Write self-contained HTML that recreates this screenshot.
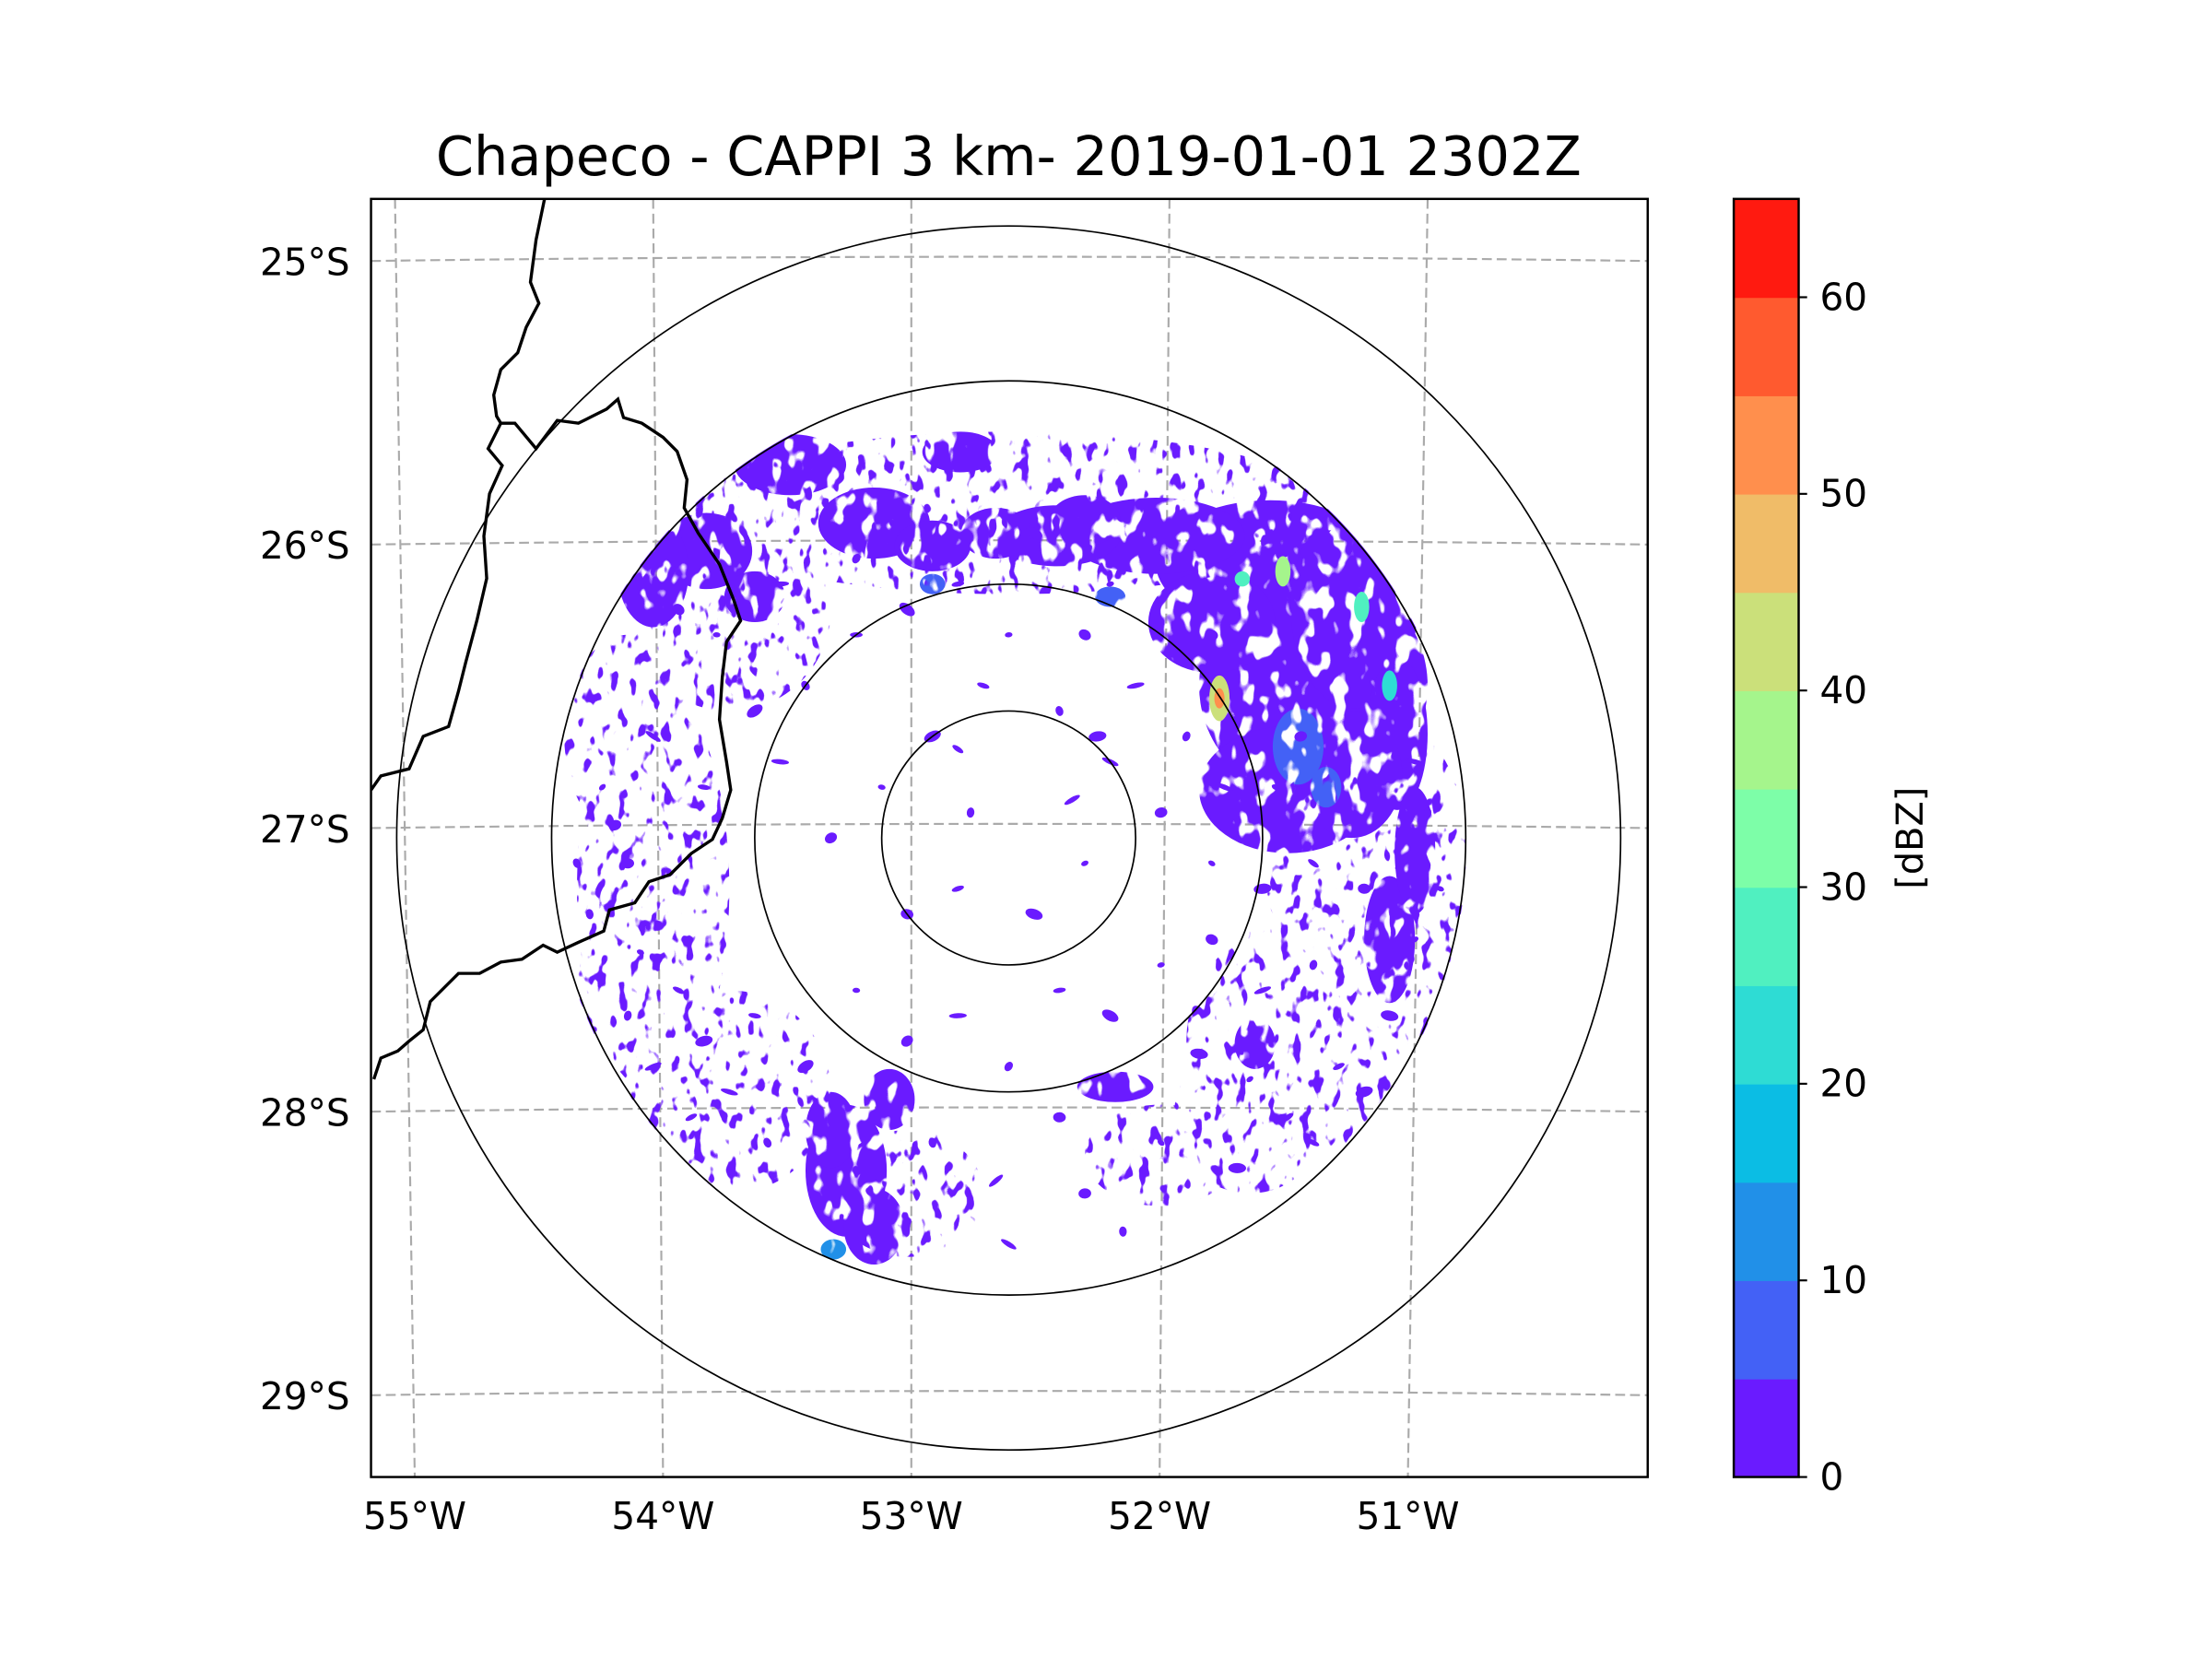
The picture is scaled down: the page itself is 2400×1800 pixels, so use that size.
<!DOCTYPE html>
<html><head><meta charset="utf-8"><style>
html,body{margin:0;padding:0;background:#fff}
svg{display:block}
text{font-family:"DejaVu Sans","Liberation Sans",sans-serif;fill:#000}
</style></head><body>
<svg id="chart" width="2400" height="1800" viewBox="0 0 1568 1176" xmlns="http://www.w3.org/2000/svg">
<rect width="1568" height="1176" fill="#fff"/>
<text x="715" y="124" font-size="38.5" text-anchor="middle">Chapeco - CAPPI 3 km- 2019-01-01 2302Z</text>
<defs>
<clipPath id="plotclip"><rect x="263" y="141" width="905" height="906"/></clipPath>
<clipPath id="radarclip"><circle cx="715" cy="594" r="325"/></clipPath>
<filter id="noiseDense" filterUnits="userSpaceOnUse" x="263" y="141" width="905" height="906" color-interpolation-filters="sRGB">
<feTurbulence type="fractalNoise" baseFrequency="0.09 0.06" numOctaves="2" seed="4" result="noise"/>
<feColorMatrix in="noise" type="matrix" values="0 0 0 0 1  0 0 0 0 1  0 0 0 0 1  14 0 0 0 -5.2"/>
</filter>
<filter id="noiseSparse" filterUnits="userSpaceOnUse" x="263" y="141" width="905" height="906" color-interpolation-filters="sRGB">
<feTurbulence type="fractalNoise" baseFrequency="0.13 0.08" numOctaves="2" seed="9" result="noise"/>
<feColorMatrix in="noise" type="matrix" values="0 0 0 0 1  0 0 0 0 1  0 0 0 0 1  16 0 0 0 -9.6"/>
</filter>
<mask id="maskDense" maskUnits="userSpaceOnUse" x="263" y="141" width="905" height="906"><rect x="263" y="141" width="905" height="906" fill="#fff" filter="url(#noiseDense)"/></mask>
<mask id="maskSparse" maskUnits="userSpaceOnUse" x="263" y="141" width="905" height="906"><rect x="263" y="141" width="905" height="906" fill="#fff" filter="url(#noiseSparse)"/></mask>
</defs>
<g id="grid" clip-path="url(#plotclip)"></g>
<g clip-path="url(#radarclip)">
<g id="sparseEchoes" mask="url(#maskSparse)"></g>
<g id="denseEchoes" mask="url(#maskDense)"></g>
<g id="echoes"></g>
</g>
<g id="map" clip-path="url(#plotclip)">
<path fill="none" stroke="#000" stroke-width="2.2" d="M386,141 L380,170 L376,200 L382,215 L373,232 L367,250 L355,262 L350,280 L352,295 L355,300 L346,318 L356,330 L347,350 L343,380 L345,410 L338,440 L330,470 L325,490 L318,515 L300,522 L290,545 L270,550 L263,560"/>
<path fill="none" stroke="#000" stroke-width="2.2" d="M355,300 L365,300 L380,318 L395,298 L410,300 L420,295 L430,290 L438,283 L442,296 L455,300 L470,310 L480,320 L487,340 L485,360 L495,378 L510,400 L520,425 L525,440 L515,455 L512,480 L510,510 L515,540 L518,560 L512,580 L505,595 L490,605 L475,620 L460,625 L450,640 L432,645 L428,660 L410,668 L395,675 L385,670 L370,680 L355,682 L340,690 L325,690 L315,700 L305,710 L300,730 L290,738 L282,745 L270,750 L265,765"/>
</g>
<g id="rings" clip-path="url(#plotclip)"></g>
<rect x="263" y="141" width="905" height="906" fill="none" stroke="#000" stroke-width="1.6"/>
<g id="labels"></g>
<g id="cbar"></g>
<text transform="translate(1363,594) rotate(-90)" font-size="26" text-anchor="middle">[dBZ]</text>
</svg>
<script>
const NS="http://www.w3.org/2000/svg";
// ---- data ----
const latTicks=[-25,-26,-27,-28,-29];
const latLabels=["25°S","26°S","27°S","28°S","29°S"];
const lonTicks=[-55,-54,-53,-52,-51];
const lonLabels=["55°W","54°W","53°W","52°W","51°W"];
const ringRadiiKm=[50,100,180,241];
const cbarLevels=[0,5,10,15,20,25,30,35,40,45,50,55,60,65];
const cbarColors=["#6a1bff","#4361f6","#2190e8","#0bbde4","#2edcd4","#50f0c0","#7dfea8","#a5f58c","#cbe07a","#f0bc68","#ff8f4d","#ff5a2f","#ff1a10"];
const cbarTicks=[0,10,20,30,40,50,60];
// dense echo areas: east km, north km, rx, ry, dBZ
const blobE=[103,120,110,136,58,19,153,80,-86,-53,-119,-19,-30,-140,-100,-64,-53,-47,-70,42,97,150,160,-5,30,135];
const blobN=[108,60,19,91,119,119,41,85,147,124,113,152,115,105,95,-131,-153,-103,-115,-98,-81,-40,-5,120,125,25];
const blobRx=[45,45,35,25,35,25,12,25,22,22,18,15,15,14,12,16,12,10,10,15,8,10,8,14,14,20];
const blobRy=[25,45,25,40,15,12,30,20,12,14,15,8,10,22,10,26,15,12,15,6,10,25,25,10,10,25];
const blobDbz=[2,2,2,2,2,2,2,2,2,2,2,2,2,2,2,2,2,2,2,2,2,2,2,2,2,2];
// sparse echo areas
const sparseE=[-140,-110,-150,120,160,0,-110,95,130,-40,60,-150];
const sparseN=[-20,-100,40,-80,-20,128,90,-110,-10,-140,-125,-60];
const sparseRx=[30,40,25,50,22,130,40,30,30,30,30,20];
const sparseRy=[80,40,40,50,60,32,40,30,40,25,20,30];
const sparseDbz=[2,2,2,2,2,2,2,2,2,2,2,2];
// stronger cores
const coreE=[114,83,83,108,92,139,-69,40,-30,150,125];
const coreN=[36,55,55,105,102,91,-162,95,100,60,20];
const coreRx=[10,4,2,3,3,3,5,6,5,3,6];
const coreRy=[15,9,4,6,3,6,4,4,4,6,8];
const coreDbz=[8,40,50,35,25,25,12,8,8,20,8];
const speckE=[-160,-150,-140,-165,-130,-120,-145,-155,-110,-95,-100,-80,-60,-40,-20,0,20,40,60,80,100,120,130,150,160,140,155,165,120,100,80,60,40,20,-10,-30,-50,-70,-90,-80,-60,-40,0,30,50,70,-20,10,30,-40,25,-15,110,90,60,30,0,-30,120,140,170,150,160,-170,-120,-100,-115,-130,-90,-60,-20,10,40,80,-140,-150,-125,75,95,20,-5,45,-20,35,105,115,85];
const speckN=[20,-10,40,-30,-60,-80,-45,5,-100,-120,-70,-90,-60,-80,-70,-90,-60,-70,-50,-40,-60,-50,-90,-70,-40,-20,-10,10,-10,-20,-10,10,30,50,60,40,20,0,30,60,80,90,80,80,60,40,-20,-30,-10,-30,15,10,-110,-130,-120,-140,-160,-120,-120,-100,-20,60,30,-10,20,50,80,90,100,110,100,120,100,80,-90,-70,-110,-85,-95,-110,-135,-155,35,40,20,40,20];
// ---- axes ----
const CX=715, CY=594, PXKM=1.8;
const xE=e=>CX+e*PXKM, yN=n=>CY-n*PXKM;
const yLat=lat=>587+(-27-lat)*201;
const xLonTop=lon=>646+(lon+53)*183, xLonBot=lon=>646+(lon+53)*176;
const cbY=v=>1047-(v-0)/(65-0)*906;
function colorFor(d){let i=Math.floor(d/5);i=Math.max(0,Math.min(cbarColors.length-1,i));return cbarColors[i];}
function mk(tag,attrs,parent){const el=document.createElementNS(NS,tag);for(const k in attrs)el.setAttribute(k,attrs[k]);parent.appendChild(el);return el;}
// grid
const grid=document.getElementById('grid');
latTicks.forEach(lat=>{const y=yLat(lat);
 const p=mk('path',{d:`M263,${y} Q715,${y-6} 1168,${y}`,fill:'none',stroke:'#aaaaaa','stroke-width':1.4,'stroke-dasharray':'7,3.5'},grid);
 
 });
lonTicks.forEach(lon=>{
 const p=mk('line',{x1:xLonTop(lon),y1:141,x2:xLonBot(lon),y2:1047,stroke:'#aaaaaa','stroke-width':1.4,'stroke-dasharray':'7,3.5'},grid);
 
 });
// echoes
const sp=document.getElementById('sparseEchoes');
for(let i=0;i<sparseE.length;i++){
 const b=mk('ellipse',{cx:xE(sparseE[i]),cy:yN(sparseN[i]),rx:sparseRx[i]*PXKM,ry:sparseRy[i]*PXKM,fill:colorFor(sparseDbz[i])},sp);
 
 }
const dn=document.getElementById('denseEchoes');
for(let i=0;i<blobE.length;i++){
 const b=mk('ellipse',{cx:xE(blobE[i]),cy:yN(blobN[i]),rx:blobRx[i]*PXKM,ry:blobRy[i]*PXKM,fill:colorFor(blobDbz[i])},dn);
 
 }
for(let i=0;i<coreE.length;i++){
 if(coreDbz[i]>=15) continue;
 const c=mk('ellipse',{cx:xE(coreE[i]),cy:yN(coreN[i]),rx:coreRx[i]*PXKM,ry:coreRy[i]*PXKM,fill:colorFor(coreDbz[i])},dn);
 
 }
const ech=document.getElementById('echoes');
for(let i=0;i<speckE.length;i++){
 const s=mk('ellipse',{cx:xE(speckE[i]),cy:yN(speckN[i]),rx:(i%3+1.5)*PXKM,ry:(i%2+1)*PXKM,fill:colorFor(2),transform:`rotate(${(i*37)%80-40} ${xE(speckE[i])} ${yN(speckN[i])})`},ech);
 
 }
for(let i=0;i<coreE.length;i++){
 if(coreDbz[i]<15) continue;
 const c=mk('ellipse',{cx:xE(coreE[i]),cy:yN(coreN[i]),rx:coreRx[i]*PXKM,ry:coreRy[i]*PXKM,fill:colorFor(coreDbz[i])},ech);
 
 }
// rings
const rings=document.getElementById('rings');
ringRadiiKm.forEach(r=>{const c=mk('circle',{cx:CX,cy:CY,r:r*PXKM,fill:'none',stroke:'#000','stroke-width':1.1},rings);
 
 });
// labels
const lab=document.getElementById('labels');
latTicks.forEach((lat,i)=>{const t=mk('text',{x:248,y:yLat(lat)+10,'font-size':26.5,'text-anchor':'end'},lab);t.textContent=latLabels[i];
 
 });
lonTicks.forEach((lon,i)=>{const t=mk('text',{x:xLonBot(lon),y:1084,'font-size':26.5,'text-anchor':'middle'},lab);t.textContent=lonLabels[i];
 
 });
// colorbar
const cb=document.getElementById('cbar');
for(let i=0;i<cbarColors.length;i++){
 const r=mk('rect',{x:1229,y:cbY(cbarLevels[i+1]),width:46,height:cbY(cbarLevels[i])-cbY(cbarLevels[i+1])+0.5,fill:cbarColors[i]},cb);
 
 }
const fr=mk('rect',{x:1229,y:141,width:46,height:906,fill:'none',stroke:'#000','stroke-width':1.6},cb);


cbarTicks.forEach(v=>{const y=cbY(v);
 const l=mk('line',{x1:1275,x2:1281,y1:y,y2:y,stroke:'#000','stroke-width':1.4},cb);
 
 
 const t=mk('text',{x:1290,y:y+9,'font-size':26.5},cb);t.textContent=String(v);
 
 });
</script>
</body></html>
